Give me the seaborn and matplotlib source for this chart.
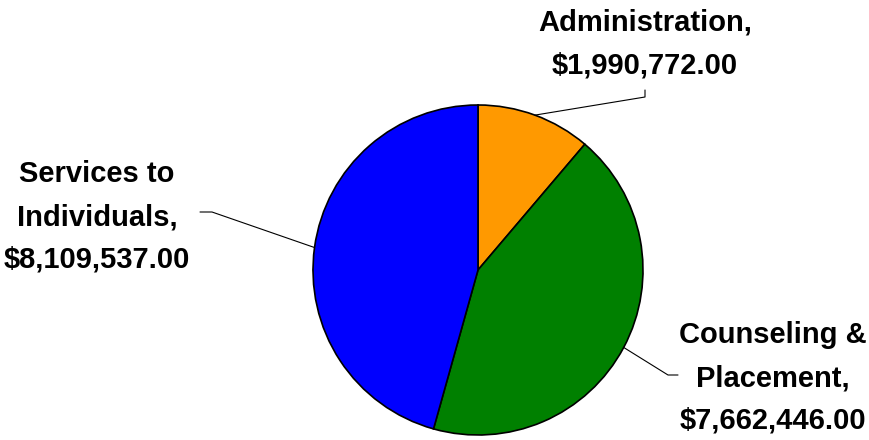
import numpy as np
import matplotlib.pyplot as plt
import seaborn as sns

sns.set_theme(style="white")
plt.rcParams['font.family'] = ['Liberation Sans', 'DejaVu Sans']

# Data
categories = ['Administration', 'Counseling & Placement', 'Services to Individuals']
amounts = [1990772.00, 7662446.00, 8109537.00]
label_text = ['Administration,\n$1,990,772.00',
              'Counseling &\nPlacement,\n$7,662,446.00',
              'Services to\nIndividuals,\n$8,109,537.00']
colors = ['#FF9900', '#008000', '#0000FF']

# Layout (pixel coords, y up)
W, H = 869, 440
center = (478, 170)
radius = 165
label_pos = [(645, 396), (773, 62), (97, 223)]
elbows = [[(645, 343), (645, 350)],
          [(668, 65), (678, 65)],
          [(212, 228), (200, 228)]]

fig = plt.figure(figsize=(W / 100, H / 100), dpi=100)
ax = fig.add_axes([0, 0, 1, 1])
wedges, _ = ax.pie(amounts, colors=colors, startangle=90, counterclock=False,
                   center=center, radius=radius,
                   wedgeprops=dict(edgecolor='black', linewidth=1.2))
ax.set_xlim(0, W)
ax.set_ylim(0, H)
ax.set_aspect('equal')
ax.axis('off')

for w, txt, pos, elb in zip(wedges, label_text, label_pos, elbows):
    ang = np.deg2rad((w.theta1 + w.theta2) / 2)
    x0 = center[0] + radius * np.cos(ang)
    y0 = center[1] + radius * np.sin(ang)
    xs = [x0] + [p[0] for p in elb]
    ys = [y0] + [p[1] for p in elb]
    ax.plot(xs, ys, color='black', linewidth=0.8)
    ax.text(pos[0], pos[1], txt, ha='center', va='center', fontsize=21,
            fontweight='bold', linespacing=1.68, color='black')

plt.savefig('out.png', dpi=100)
plt.close()
